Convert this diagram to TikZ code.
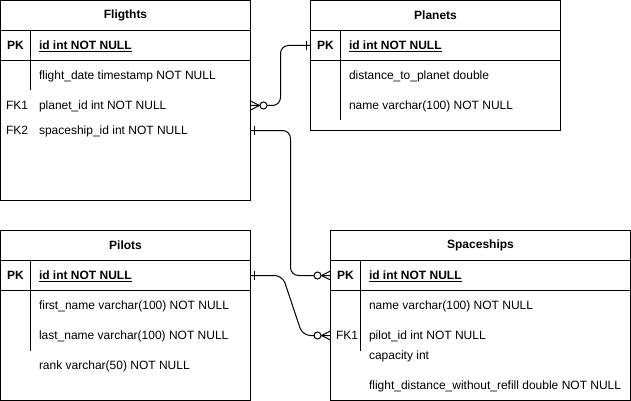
\documentclass[tikz,border=0pt]{standalone}
\usepackage{fontspec}
\setmainfont{Liberation Sans}
\usetikzlibrary{shapes}

\newcommand{\erfont}{\fontsize{12}{14}\selectfont}
% crow's foot with circle, #2 = 1 when the line leaves to the right
\newcommand{\zeromany}[2]{%
  \draw (#1) ++(0,-4.5) -- ++({#2*9},4.5) -- ++({-1*(#2)*9},4.5);
  \draw[fill=white] (#1) ++({#2*13},0) circle[radius=3.5pt];
}
\newcommand{\onlyone}[2]{%
  \draw (#1) ++({#2*4},-4.5) -- ++(0,9);
}

\begin{document}
\begin{tikzpicture}[
    x=1pt, y=-1pt,
    line width=1pt,
    font=\erfont
]
\tikzset{
    entity/.style = {draw=black, anchor=north west, inner sep=0pt, outer sep=0pt},
    title/.style = {font=\erfont\bfseries},
    pklbl/.style = {font=\erfont\bfseries, inner sep=0pt, text height=8.6pt, text depth=0pt},
    fklbl/.style = {anchor=west, inner sep=0pt, text height=8.6pt, text depth=0pt},
    field/.style = {anchor=west, inner sep=0pt, text height=8.6pt, text depth=0pt},
    rel/.style = {rounded corners=8pt}
}
\useasboundingbox (-0.5,-0.5) rectangle (630.5,400.5);

% Flights
\node[entity, minimum width=250pt, minimum height=200pt] at (0,0) (flights) {};
\node[title] at (125,15) (fl_title) {Fligthts};
\draw (0,30) -- (250,30) (0,60) -- (250,60) (30,30) -- (30,90);
\node[pklbl] at (15,45) (fl_pk) {PK};
\node[field] at (38,45) (fl_id) {\underline{\textbf{id int NOT NULL}}};
\node[field] at (38,75) (fl_date) {flight\_date timestamp NOT NULL};
\node[fklbl] at (5,105) (fl_fk1) {FK1};
\node[field] at (38,105) (fl_planet) {planet\_id int NOT NULL};
\node[fklbl] at (5,130) (fl_fk2) {FK2};
\node[field] at (38,130) (fl_ship) {spaceship\_id int NOT NULL};

% Planets
\node[entity, minimum width=250pt, minimum height=130pt] at (310,0) (planets) {};
\node[title] at (435,15) (pl_title) {Planets};
\draw (310,30) -- (560,30) (310,60) -- (560,60) (340,30) -- (340,120);
\node[pklbl] at (325,45) (pl_pk) {PK};
\node[field] at (348,45) (pl_id) {\underline{\textbf{id int NOT NULL}}};
\node[field] at (348,75) (pl_dist) {distance\_to\_planet double};
\node[field] at (348,105) (pl_name) {name varchar(100) NOT NULL};

% Pilots
\node[entity, minimum width=250pt, minimum height=170pt] at (0,230) (pilots) {};
\node[title] at (125,245) (pi_title) {Pilots};
\draw (0,260) -- (250,260) (0,290) -- (250,290) (30,260) -- (30,350);
\node[pklbl] at (15,275) (pi_pk) {PK};
\node[field] at (38,275) (pi_id) {\underline{\textbf{id int NOT NULL}}};
\node[field] at (38,305) (pi_first) {first\_name varchar(100) NOT NULL};
\node[field] at (38,335) (pi_last) {last\_name varchar(100) NOT NULL};
\node[field] at (38,365) (pi_rank) {rank varchar(50) NOT NULL};

% Spaceships
\node[entity, minimum width=300pt, minimum height=170pt] at (330,230) (ships) {};
\node[title] at (480,245) (sh_title) {Spaceships};
\draw (330,260) -- (630,260) (330,290) -- (630,290) (360,260) -- (360,350);
\node[pklbl] at (345,275) (sh_pk) {PK};
\node[field] at (368,275) (sh_id) {\underline{\textbf{id int NOT NULL}}};
\node[field] at (368,305) (sh_name) {name varchar(100) NOT NULL};
\node[fklbl] at (335,335) (sh_fk1) {FK1};
\node[field] at (368,335) (sh_pilot) {pilot\_id int NOT NULL};
\node[field] at (368,355) (sh_cap) {capacity int};
\node[field] at (368,385) (sh_range) {flight\_distance\_without\_refill double NOT NULL};

% relations
\draw[rel] (flights.east |- fl_planet) -- ++(30,0) |- (planets.west |- pl_id);
\draw[rel] (flights.east |- fl_ship) -- ++(40,0) |- (ships.west |- sh_id);
\draw[rel] (pilots.east |- pi_id) -- ++(32,0) -- ++(20,60) -- (ships.west |- sh_pilot);
\zeromany{flights.east |- fl_planet}{1}
\onlyone{planets.west |- pl_id}{-1}
\onlyone{flights.east |- fl_ship}{1}
\zeromany{ships.west |- sh_id}{-1}
\onlyone{pilots.east |- pi_id}{1}
\zeromany{ships.west |- sh_pilot}{-1}
\end{tikzpicture}
\end{document}
